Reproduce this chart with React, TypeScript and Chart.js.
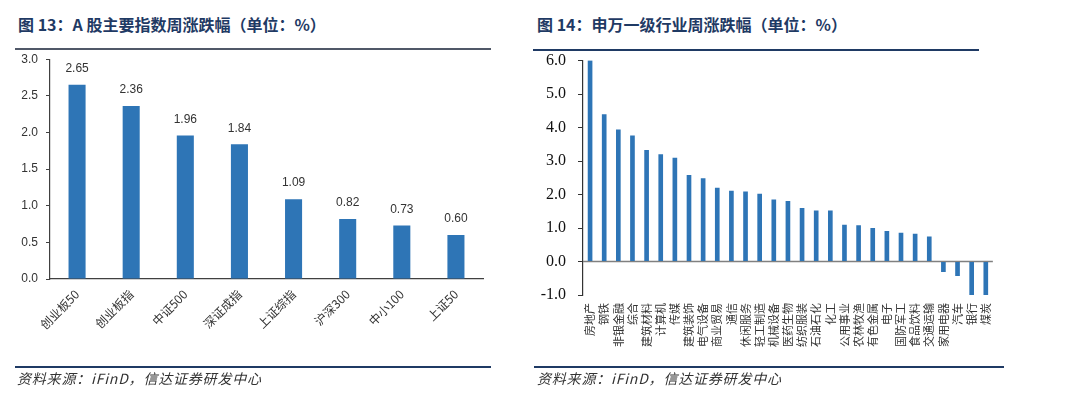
import React, { useEffect, useRef } from "react";
import { Chart, registerables } from "chart.js";

Chart.register(...registerables);

const indexLabels = ["创业板50", "创业板指", "中证500", "深证成指", "上证综指", "沪深300", "中小100", "上证50"];
const indexValues = [2.65, 2.36, 1.96, 1.84, 1.09, 0.82, 0.73, 0.6];

const industryLabels = [
  "房地产", "钢铁", "非银金融", "综合", "建筑材料", "计算机", "传媒", "建筑装饰", "电气设备", "商业贸易",
  "通信", "休闲服务", "轻工制造", "机械设备", "医药生物", "纺织服装", "石油石化", "化工", "公用事业", "农林牧渔",
  "有色金属", "电子", "国防军工", "食品饮料", "交通运输", "家用电器", "汽车", "银行", "煤炭",
];
const industryValues = [
  6.01, 4.4, 3.94, 3.76, 3.33, 3.2, 3.1, 2.58, 2.49, 2.2,
  2.11, 2.09, 2.02, 1.85, 1.81, 1.6, 1.52, 1.52, 1.1, 1.08,
  1.0, 0.91, 0.86, 0.83, 0.75, -0.31, -0.43, -1.01, -1.05,
];

const titleLeft = "图 13：A 股主要指数周涨跌幅（单位：%）";
const titleRight = "图 14：申万一级行业周涨跌幅（单位：%）";
const sourceText = "资料来源：iFinD，信达证券研发中心";

const BAR = "#2E75B6";
const NAVY = "#1F3A64";
const CJK = "'Noto Sans CJK SC', 'Noto Sans', sans-serif";

const valueLabelPlugin = {
  id: "valueLabels",
  afterDatasetsDraw(chart: any) {
    const ctx = chart.ctx;
    const meta = chart.getDatasetMeta(0);
    const data = chart.data.datasets[0].data as number[];
    ctx.save();
    ctx.font = "12px 'Liberation Sans', sans-serif";
    ctx.fillStyle = "#333333";
    ctx.textAlign = "center";
    ctx.textBaseline = "middle";
    meta.data.forEach((el: any, i: number) => {
      ctx.fillText(data[i].toFixed(2), el.x, el.y - 16);
    });
    ctx.restore();
  },
};

const zeroLinePlugin = {
  id: "zeroLine",
  beforeDatasetsDraw(chart: any) {
    const ctx = chart.ctx;
    const y = chart.scales.y.getPixelForValue(0);
    const { left, right } = chart.chartArea;
    ctx.save();
    ctx.strokeStyle = "#808080";
    ctx.lineWidth = 1.5;
    ctx.beginPath();
    ctx.moveTo(left, y);
    ctx.lineTo(right, y);
    ctx.stroke();
    ctx.restore();
  },
};

function LeftChart() {
  const ref = useRef<HTMLCanvasElement>(null);
  useEffect(() => {
    const chart = new Chart(ref.current!, {
      type: "bar",
      data: {
        labels: indexLabels,
        datasets: [
          {
            data: indexValues,
            backgroundColor: BAR,
            barPercentage: 0.315,
            categoryPercentage: 1,
          },
        ],
      },
      options: {
        animation: false,
        responsive: false,
        maintainAspectRatio: false,
        layout: { padding: { top: 0, right: 12, left: 0, bottom: 0 } },
        plugins: { legend: { display: false }, tooltip: { enabled: false } },
        scales: {
          x: {
            grid: { display: false, drawTicks: false },
            border: { display: true, color: "#404040", width: 1.2 },
            ticks: {
              autoSkip: false,
              minRotation: 45,
              maxRotation: 45,
              padding: 8,
              color: "#333333",
              font: { family: CJK, size: 12 },
            },
            afterFit(scale: any) {
              scale.height = 101;
            },
          },
          y: {
            min: 0,
            max: 3,
            grid: { display: true, drawOnChartArea: false, drawTicks: true, tickLength: 4, color: "#404040" },
            border: { display: true, color: "#404040", width: 1.2 },
            ticks: {
              stepSize: 0.5,
              padding: 8,
              color: "#333333",
              font: { family: "'Liberation Sans', sans-serif", size: 12 },
              callback: (v: any) => Number(v).toFixed(1),
            },
            afterFit(scale: any) {
              scale.width = 50;
            },
          },
        },
      },
      plugins: [valueLabelPlugin],
    });
    return () => chart.destroy();
  }, []);
  return <canvas ref={ref} width={495} height={336} style={{ position: "absolute", left: 0, top: 44 }} />;
}

function RightChart() {
  const ref = useRef<HTMLCanvasElement>(null);
  useEffect(() => {
    const chart = new Chart(ref.current!, {
      type: "bar",
      data: {
        labels: industryLabels,
        datasets: [
          {
            data: industryValues,
            backgroundColor: BAR,
            barPercentage: 0.33,
            categoryPercentage: 1,
          },
        ],
      },
      options: {
        animation: false,
        responsive: false,
        maintainAspectRatio: false,
        layout: { padding: { top: 0, right: 0, left: 0, bottom: 0 } },
        plugins: { legend: { display: false }, tooltip: { enabled: false } },
        scales: {
          x: {
            grid: { display: false, drawTicks: false },
            border: { display: false },
            ticks: {
              autoSkip: false,
              minRotation: 90,
              maxRotation: 90,
              padding: 8,
              color: "#333333",
              font: { family: CJK, size: 11 },
            },
            afterFit(scale: any) {
              scale.height = 65;
            },
          },
          y: {
            min: -1,
            max: 6,
            grid: { display: true, drawOnChartArea: false, drawTicks: true, tickLength: 5, color: "#333333" },
            border: { display: true, color: "#333333", width: 1.2 },
            ticks: {
              stepSize: 1,
              padding: 12,
              color: "#111111",
              font: { family: "'Liberation Serif', serif", size: 16 },
              callback: (v: any) => Number(v).toFixed(1),
            },
            afterFit(scale: any) {
              scale.width = 53;
            },
          },
        },
      },
      plugins: [zeroLinePlugin],
    });
    return () => chart.destroy();
  }, []);
  return <canvas ref={ref} width={477} height={321} style={{ position: "absolute", left: 530, top: 39 }} />;
}

const titleStyle: React.CSSProperties = {
  position: "absolute",
  top: 12,
  fontFamily: CJK,
  fontWeight: 700,
  fontSize: 16,
  color: NAVY,
  whiteSpace: "nowrap",
  lineHeight: "24px",
  letterSpacing: "0px",
};

const sourceStyle: React.CSSProperties = {
  position: "absolute",
  top: 369,
  fontFamily: CJK,
  fontStyle: "italic",
  fontSize: 14,
  color: "#333333",
  whiteSpace: "nowrap",
  lineHeight: "18px",
  letterSpacing: "0.8px",
};

export default function App() {
  return (
    <div
      style={{
        position: "absolute",
        left: 0,
        top: 0,
        width: 1080,
        height: 398,
        background: "#ffffff",
        overflow: "hidden",
      }}
    >
      <div style={{ ...titleStyle, left: 18 }}>{titleLeft}</div>
      <div style={{ ...titleStyle, left: 537 }}>{titleRight}</div>
      <div style={{ position: "absolute", left: 15, top: 48, width: 476, height: 2, background: "#505868" }} />
      <div style={{ position: "absolute", left: 533, top: 49, width: 446, height: 2, background: NAVY }} />
      <LeftChart />
      <RightChart />
      <div style={{ position: "absolute", left: 15, top: 366, width: 476, height: 2, background: NAVY }} />
      <div style={{ position: "absolute", left: 534, top: 366, width: 470, height: 2, background: NAVY }} />
      <div style={{ ...sourceStyle, left: 17 }}>{sourceText}</div>
      <div style={{ ...sourceStyle, left: 537 }}>{sourceText}</div>
    </div>
  );
}
